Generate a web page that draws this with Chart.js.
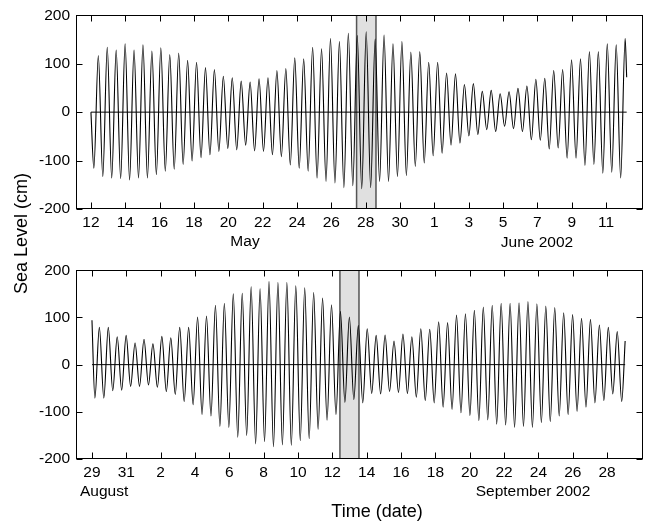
<!DOCTYPE html>
<html><head><meta charset="utf-8">
<script src="https://cdn.jsdelivr.net/npm/chart.js@4.4.1/dist/chart.umd.min.js"></script>
<style>
html,body{margin:0;padding:0;background:#fff;}
#wrap{position:relative;width:648px;height:522px;overflow:hidden;font-family:"Liberation Sans",Arial,sans-serif;color:#000;}
canvas{position:absolute;left:0;z-index:0;}
.lbl{position:absolute;z-index:2;color:#000;font-weight:normal;font-size:15.5px;white-space:nowrap;line-height:1;transform:translate(-50%,-50%);}
#ylab{position:absolute;z-index:2;color:#000;font-size:18px;line-height:18px;white-space:nowrap;writing-mode:vertical-rl;transform:rotate(180deg);left:12px;top:173px;}
</style></head><body>
<div id="wrap">
<canvas id="c1" width="648" height="255" style="top:0;width:648px;height:255px"></canvas>
<canvas id="c2" width="648" height="267" style="top:255px;width:648px;height:267px"></canvas>
<div id="ylab">Sea Level (cm)</div>
<div class="lbl" style="left:245px;top:241px;">May</div>
<div class="lbl" style="left:537px;top:242px;">June 2002</div>
<div class="lbl" style="left:80px;top:491px;transform:translate(0,-50%);">August</div>
<div class="lbl" style="left:533px;top:491px;">September 2002</div>
<div class="lbl" style="left:377px;top:511px;font-size:18px;">Time (date)</div>
</div>
<script>
// ---- Top panel: 12 May - 12 June 2002 (day numbers: June d = 31 + d) ----
const topDays = [
12.00,
12.17,12.43,12.69,12.95,13.21,13.47,13.73,13.99,14.25,14.51,
14.77,15.03,15.29,15.55,15.81,16.07,16.33,16.59,16.85,17.11,
17.37,17.63,17.89,18.15,18.41,18.67,18.93,19.19,19.45,19.71,
19.97,20.23,20.49,20.75,21.01,21.27,21.53,21.79,22.05,22.31,
22.57,22.83,23.09,23.35,23.61,23.87,24.13,24.39,24.65,24.91,
25.17,25.43,25.69,25.95,26.21,26.47,26.73,26.99,27.25,27.51,
27.77,28.03,28.29,28.55,28.81,29.07,29.33,29.59,29.85,30.11,
30.37,30.63,30.89,31.15,31.41,31.67,31.93,32.19,32.45,32.71,
32.97,33.23,33.49,33.75,34.01,34.27,34.53,34.79,35.05,35.31,
35.57,35.83,36.09,36.35,36.61,36.87,37.13,37.39,37.65,37.91,
38.17,38.43,38.69,38.95,39.21,39.47,39.73,39.99,40.25,40.51,
40.77,41.03,41.29,41.55,41.81,42.07,42.33,42.59,42.85,43.11,
43.20];
const topLevels = [
0,
-116,117,-133,134,-136,128,-137,141,-140,128,
-136,139,-136,126,-129,133,-122,119,-118,122,
-108,107,-101,103,-94,92,-88,88,-81,74,
-75,71,-78,64,-68,62,-80,69,-81,71,
-88,86,-92,90,-109,112,-116,110,-122,134,
-136,131,-143,152,-146,146,-156,163,-152,158,
-158,166,-156,151,-143,159,-143,141,-133,146,
-131,124,-112,125,-105,103,-90,103,-85,81,
-68,79,-64,57,-49,59,-46,43,-36,45,
-40,38,-29,42,-34,49,-40,54,-57,68,
-58,70,-76,86,-74,88,-95,108,-95,110,
-110,125,-108,125,-126,141,-124,139,-136,152,
72];
const topTickValues = [12,14,16,18,20,22,24,26,28,30,32,34,36,38,40,42];
const topTickLabels = ['12','14','16','18','20','22','24','26','28','30','1','3','5','7','9','11'];
const topBand = [27.47, 28.60];
const topRange = [11.13, 44.15];

// ---- Bottom panel: 29 Aug - 29 Sep 2002 (day numbers: Sep d = 31 + d) ----
const botDays = [
29.00,
29.17,29.43,29.69,29.95,30.21,30.47,30.73,30.99,31.25,31.51,
31.77,32.03,32.29,32.55,32.81,33.07,33.33,33.59,33.85,34.11,
34.37,34.63,34.89,35.15,35.41,35.67,35.93,36.19,36.45,36.71,
36.97,37.23,37.49,37.75,38.01,38.27,38.53,38.79,39.05,39.31,
39.57,39.83,40.09,40.35,40.61,40.87,41.13,41.39,41.65,41.91,
42.17,42.43,42.69,42.95,43.21,43.47,43.73,43.99,44.25,44.51,
44.77,45.03,45.29,45.55,45.81,46.07,46.33,46.59,46.85,47.11,
47.37,47.63,47.89,48.15,48.41,48.67,48.93,49.19,49.45,49.71,
49.97,50.23,50.49,50.75,51.01,51.27,51.53,51.79,52.05,52.31,
52.57,52.83,53.09,53.35,53.61,53.87,54.13,54.39,54.65,54.91,
55.17,55.43,55.69,55.95,56.21,56.47,56.73,56.99,57.25,57.51,
57.77,58.03,58.29,58.55,58.81,59.07,59.33,59.59,59.85,60.05];
const botLevels = [
94,
-71,79,-71,79,-55,59,-54,62,-46,46,
-46,54,-43,44,-48,60,-57,57,-63,79,
-78,79,-85,101,-106,103,-109,126,-131,130,
-133,150,-154,151,-150,165,-168,161,-163,176,
-174,174,-170,174,-171,167,-161,163,-157,153,
-137,141,-118,127,-106,113,-80,101,-74,83,
-81,76,-61,62,-62,63,-57,50,-59,65,
-61,59,-69,76,-76,75,-81,91,-90,89,
-95,105,-102,108,-108,115,-119,122,-117,126,
-126,130,-128,130,-133,131,-131,134,-133,129,
-123,124,-121,121,-109,110,-106,106,-99,98,
-90,96,-81,84,-76,79,-62,70,-78,50];
const botTickValues = [29,31,33,35,37,39,41,43,45,47,49,51,53,55,57,59];
const botTickLabels = ['29','31','2','4','6','8','10','12','14','16','18','20','22','24','26','28'];
const botBand = [43.44, 44.55];
const botRange = [28.07, 61.09];

const yTickValues = [-200,-100,0,100,200];
const yRange = [-200, 200];

const FONT = '"Liberation Sans", Arial, sans-serif';

const deco = {
  id: 'panelDeco',
  beforeDatasetsDraw(chart, args, opts) {
    const {ctx, chartArea: a, scales: {x}} = chart;
    const x0 = x.getPixelForValue(opts.band[0]);
    const x1 = x.getPixelForValue(opts.band[1]);
    ctx.save();
    ctx.fillStyle = '#e0e0e0';
    ctx.fillRect(x0, a.top, x1 - x0, a.bottom - a.top);
    ctx.strokeStyle = '#555';
    ctx.lineWidth = 1.5;
    ctx.beginPath();
    ctx.moveTo(x0, a.top); ctx.lineTo(x0, a.bottom);
    ctx.moveTo(x1, a.top); ctx.lineTo(x1, a.bottom);
    ctx.stroke();
    ctx.restore();
  },
  afterDraw(chart) {
    const {ctx, chartArea: a, scales: {x, y}} = chart;
    ctx.save();
    ctx.strokeStyle = '#000';
    ctx.lineWidth = 1;
    const L = Math.round(a.left) + 0.5, R = Math.round(a.right) - 0.5;
    const T = Math.round(a.top) + 0.5, B = Math.round(a.bottom) - 0.5;
    ctx.strokeRect(L, T, R - L, B - T);
    ctx.beginPath();
    x.ticks.forEach(t => {
      const px = Math.round(x.getPixelForValue(t.value)) + 0.5;
      ctx.moveTo(px, B); ctx.lineTo(px, B - 6);
      ctx.moveTo(px, T); ctx.lineTo(px, T + 6);
    });
    y.ticks.forEach(t => {
      const py = Math.round(y.getPixelForValue(t.value)) + 0.5;
      ctx.moveTo(L, py); ctx.lineTo(L + 6, py);
      ctx.moveTo(R, py); ctx.lineTo(R - 6, py);
    });
    ctx.stroke();
    ctx.restore();
  }
};

function makePanel(id, days, levels, tickVals, tickLbls, band, range, padTop, axisH) {
  const pts = days.map((d, i) => ({x: d, y: levels[i]}));
  const zero = [{x: days[0], y: 0}, {x: days[days.length - 1], y: 0}];
  return new Chart(document.getElementById(id), {
    type: 'line',
    data: {datasets: [
      {data: pts, borderColor: '#000', borderWidth: 1.1, pointRadius: 0,
       cubicInterpolationMode: 'monotone', fill: false},
      {data: zero, borderColor: '#000', borderWidth: 1, pointRadius: 0, fill: false}
    ]},
    options: {
      responsive: false, animation: false, devicePixelRatio: 1,
      layout: {padding: {top: padTop, right: 5, left: 0, bottom: 0}},
      plugins: {legend: {display: false}, tooltip: {enabled: false}, panelDeco: {band: band}},
      scales: {
        x: {
          type: 'linear', min: range[0], max: range[1],
          grid: {display: false, drawTicks: false}, border: {display: false},
          afterBuildTicks: s => { s.ticks = tickVals.map(v => ({value: v})); },
          afterFit: s => { s.height = axisH; },
          ticks: {autoSkip: false, maxRotation: 0, padding: 4, color: '#000',
                  font: {family: FONT, size: 15.5},
                  callback: (v, i) => tickLbls[i]}
        },
        y: {
          min: yRange[0], max: yRange[1],
          grid: {display: false, drawTicks: false}, border: {display: false},
          afterBuildTicks: s => { s.ticks = yTickValues.map(v => ({value: v})); },
          afterFit: s => { s.width = 76; },
          ticks: {padding: 6, color: '#000', font: {family: FONT, size: 15.5},
                  callback: v => String(v)}
        }
      }
    },
    plugins: [deco]
  });
}

makePanel('c1', topDays, topLevels, topTickValues, topTickLabels, topBand, topRange, 14, 46);
makePanel('c2', botDays, botLevels, botTickValues, botTickLabels, botBand, botRange, 11, 63);
</script>
</body></html>
